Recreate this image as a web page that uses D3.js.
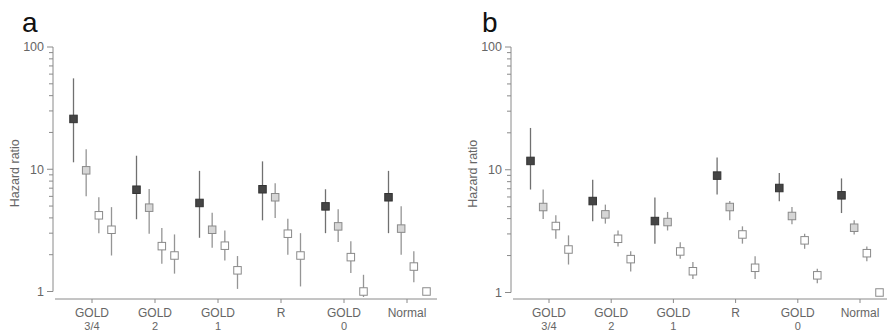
<!DOCTYPE html>
<html>
<head>
<meta charset="utf-8">
<script src="https://cdn.jsdelivr.net/npm/d3@7/dist/d3.min.js"></script>
<style>
  html, body { margin: 0; padding: 0; background: #fff; }
  svg { display: block; font-family: "Liberation Sans", Arial, sans-serif; }
</style>
</head>
<body>
<svg id="chart" width="887" height="332"></svg>
<script>
// Categories along the x axis (two-line labels)
const categories = ["GOLD 3/4", "GOLD 2", "GOLD 1", "R", "GOLD 0", "Normal"];
const categoryLines = [["GOLD", "3/4"], ["GOLD", "2"], ["GOLD", "1"], ["R"], ["GOLD", "0"], ["Normal"]];
const series = ["s1", "s2", "s3", "s4"];
const yTicks = [1, 10, 100];

// Panel a: hazard ratio estimates and 95% CI per category (rows) and series (columns)
const aEst  = [[25.8, 9.8, 4.2, 3.2], [6.8, 4.85, 2.35, 1.97], [5.3, 3.2, 2.37, 1.49],
               [6.86, 5.9, 2.97, 1.97], [4.97, 3.41, 1.91, 1.0], [5.9, 3.27, 1.6, 1.0]];
const aLow  = [[11.4, 6.0, 3.0, 1.97], [3.9, 2.97, 1.69, 1.40], [2.75, 2.28, 1.79, 1.05],
               [3.82, 4.0, 2.0, 1.1], [3.0, 2.54, 1.42, 0.9], [3.0, 2.0, 1.19, 1.0]];
const aHigh = [[55.4, 14.6, 5.9, 4.9], [12.9, 6.9, 3.3, 2.93], [9.7, 4.4, 3.16, 1.95],
               [11.6, 7.7, 3.94, 3.0], [6.86, 4.7, 2.58, 1.37], [9.7, 4.97, 2.13, 1.0]];

// Panel b
const bEst  = [[11.8, 4.97, 3.48, 2.24], [5.56, 4.33, 2.74, 1.87], [3.82, 3.75, 2.16, 1.49],
               [8.96, 4.97, 2.97, 1.59], [7.1, 4.2, 2.66, 1.38], [6.19, 3.37, 2.09, 1.0]];
const bLow  = [[6.9, 3.97, 2.74, 1.69], [3.8, 3.64, 2.37, 1.48], [2.5, 3.2, 1.88, 1.29],
               [6.3, 3.87, 2.5, 1.29], [5.53, 3.59, 2.27, 1.19], [4.44, 2.97, 1.8, 1.0]];
const bHigh = [[21.9, 6.9, 4.25, 2.92], [8.3, 5.2, 3.2, 2.17], [5.93, 4.53, 2.57, 1.77],
               [12.6, 5.56, 3.46, 1.97], [9.4, 4.97, 3.01, 1.56], [8.5, 3.87, 2.37, 1.0]];

const fills   = {s1: "#454545", s2: "#d6d6d6", s3: "#ffffff", s4: "#ffffff"};
const strokes = {s1: "#333333", s2: "#8a8a8a", s3: "#8a8a8a", s4: "#8a8a8a"};
const ciColor = {s1: "#707070", s2: "#959595", s3: "#959595", s4: "#959595"};

const svg = d3.select("#chart");

function drawPanel(opt) {
  const g = svg.append("g");
  const y = d3.scaleLog().domain([1, 100]).range([opt.yBottom, 47]);
  const x = d3.scalePoint().domain(categories).range(opt.xRange);
  const off = d3.scalePoint().domain(series).range([-19, 19]);

  // Panel letter
  g.append("text").attr("x", opt.letterX).attr("y", 32)
    .attr("font-size", 28).attr("fill", "#111").text(opt.letter);

  // Y axis with log minor ticks
  const minor = [];
  for (const d of [1, 10]) for (let k = 2; k <= 9; k++) minor.push(d * k);
  const yAxis = g.append("g").attr("transform", `translate(${opt.axisX},0)`);
  yAxis.append("line").attr("y1", y(1)).attr("y2", y(100)).attr("stroke", "#8a8a8a");
  yAxis.selectAll(".minor").data(minor).join("line")
    .attr("x1", -4).attr("x2", 0).attr("y1", d => y(d)).attr("y2", d => y(d))
    .attr("stroke", "#8a8a8a");
  yAxis.selectAll(".major").data(yTicks).join("line")
    .attr("x1", -6).attr("x2", 0).attr("y1", d => y(d)).attr("y2", d => y(d))
    .attr("stroke", "#8a8a8a");
  yAxis.selectAll("text").data(yTicks).join("text")
    .attr("x", -9).attr("y", d => y(d)).attr("dy", "0.35em")
    .attr("text-anchor", "end").attr("font-size", 12.5).attr("fill", "#666")
    .text(d => d);

  // Y label
  g.append("text")
    .attr("transform", `translate(${opt.axisX - 34},${(y(1) + y(100)) / 2 + 4}) rotate(-90)`)
    .attr("text-anchor", "middle").attr("font-size", 12.5).attr("fill", "#666")
    .text("Hazard ratio");

  // X axis
  const xAxisY = 299;
  g.append("line").attr("x1", opt.axisX + 2).attr("x2", opt.xEnd)
    .attr("y1", xAxisY).attr("y2", xAxisY).attr("stroke", "#8a8a8a");
  g.selectAll(".xt").data(categories).join("line")
    .attr("x1", d => x(d)).attr("x2", d => x(d))
    .attr("y1", xAxisY).attr("y2", xAxisY + 4).attr("stroke", "#8a8a8a");

  // Category labels, one text element per line
  const labelRows = [];
  categories.forEach((c, i) => categoryLines[i].forEach((t, j) => labelRows.push({c, t, j})));
  g.selectAll(".xl").data(labelRows).join("text")
    .attr("x", d => x(d.c)).attr("y", d => d.j === 0 ? xAxisY + 18 : xAxisY + 30.5)
    .attr("text-anchor", "middle").attr("font-size", d => d.j === 0 ? 12 : 11)
    .attr("fill", "#666")
    .text(d => d.t);

  // Points with CI whiskers
  const pts = [];
  categories.forEach((c, i) => series.forEach((s, j) => {
    pts.push({c, s, est: opt.est[i][j], lo: opt.low[i][j], hi: opt.high[i][j]});
  }));
  const px = d => x(d.c) + off(d.s) + 0.5;
  g.selectAll(".ci").data(pts).join("line")
    .attr("x1", px).attr("x2", px)
    .attr("y1", d => Math.min(y(d.lo), xAxisY - 2)).attr("y2", d => y(d.hi))
    .attr("stroke", d => ciColor[d.s]).attr("stroke-width", 1.3);
  const sz = 7.5;
  g.selectAll(".pt").data(pts).join("rect")
    .attr("x", d => px(d) - sz / 2).attr("y", d => y(d.est) - sz / 2)
    .attr("width", sz).attr("height", sz)
    .attr("fill", d => fills[d.s]).attr("stroke", d => strokes[d.s]).attr("stroke-width", 1);
}

drawPanel({letter: "a", letterX: 22, axisX: 53, xRange: [92, 407], xEnd: 437, yBottom: 291.5,
           est: aEst, low: aLow, high: aHigh});
drawPanel({letter: "b", letterX: 482, axisX: 511, xRange: [549, 860], xEnd: 887, yBottom: 292.5,
           est: bEst, low: bLow, high: bHigh});
</script>
</body>
</html>
